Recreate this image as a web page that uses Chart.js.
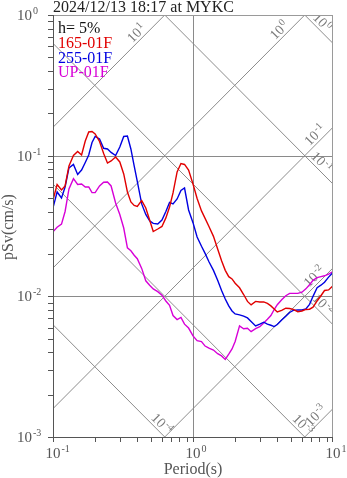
<!DOCTYPE html>
<html>
<head>
<meta charset="utf-8">
<script src="https://cdn.jsdelivr.net/npm/chart.js@4.4.1/dist/chart.umd.min.js"></script>
<style>
  html, body { margin: 0; padding: 0; background: #fff; }
  canvas { display: block; }
</style>
</head>
<body>
<canvas id="spec" width="347" height="478"></canvas>
<script>
// Periods (s) shared by the three components
const periods = [0.1, 0.107, 0.115, 0.122, 0.13, 0.14, 0.15, 0.16, 0.17, 0.18, 0.19, 0.2,
  0.215, 0.23, 0.245, 0.26, 0.28, 0.3, 0.32, 0.34, 0.36, 0.38, 0.4, 0.43, 0.46, 0.49, 0.52,
  0.56, 0.6, 0.64, 0.68, 0.72, 0.77, 0.82, 0.87, 0.93,
  1.0, 1.07, 1.15, 1.22, 1.3, 1.4, 1.5, 1.6, 1.7, 1.8, 1.9, 2.0, 2.15, 2.3, 2.45, 2.6, 2.8,
  3.0, 3.2, 3.4, 3.6, 3.8, 4.0, 4.3, 4.6, 4.9, 5.2, 5.6, 6.0, 6.4, 6.8, 7.2, 7.7, 8.2, 8.7,
  9.3, 10];

// pSv (cm/s)
const sv165 = [0.0484, 0.0624, 0.0570, 0.0609, 0.0845, 0.1003, 0.1071, 0.1012, 0.1272, 0.1474,
  0.1486, 0.1426, 0.1262, 0.1036, 0.0887, 0.0917, 0.0979, 0.0902, 0.0741, 0.0552, 0.0469,
  0.0443, 0.0436, 0.0479, 0.0425, 0.0349, 0.0289, 0.0301, 0.0314, 0.0361, 0.0432, 0.0543,
  0.0766, 0.0880, 0.0866, 0.0791,
  0.0629, 0.0496, 0.0405, 0.0358, 0.0314, 0.0267, 0.0217, 0.0179, 0.0153, 0.0138, 0.0133,
  0.0124, 0.0115, 0.0103, 0.0092, 0.00869, 0.0092, 0.00912, 0.00912, 0.0089, 0.00855,
  0.00814, 0.00774, 0.00794, 0.00823, 0.0082, 0.00807, 0.00777, 0.00787, 0.00807, 0.0081,
  0.00838, 0.00927, 0.0101, 0.011, 0.0111, 0.0119];

const sv255 = [0.0425, 0.0552, 0.0500, 0.0599, 0.0818, 0.0866, 0.0735, 0.0791, 0.0895, 0.1012,
  0.1241, 0.1369, 0.1314, 0.1129, 0.1116, 0.1054, 0.1003, 0.1153, 0.1369, 0.1380, 0.1116,
  0.0845, 0.0656, 0.0454, 0.0382, 0.0344, 0.0330, 0.0327, 0.0349, 0.0401, 0.0465, 0.0454,
  0.0492, 0.0566, 0.0589, 0.0411,
  0.0334, 0.0264, 0.0227, 0.0202, 0.0176, 0.0153, 0.0130, 0.0110, 0.00958, 0.00855, 0.00787,
  0.0075, 0.00738, 0.00723, 0.00702, 0.00663, 0.00616, 0.00634, 0.00655, 0.00634, 0.00623,
  0.0061, 0.00631, 0.0068, 0.00723, 0.00768, 0.00794, 0.008, 0.008, 0.00814, 0.00877,
  0.0100, 0.0115, 0.0120, 0.0126, 0.0137, 0.0148];

const svUP = [0.0288, 0.0310, 0.0326, 0.0401, 0.0580, 0.0687, 0.0624, 0.0629, 0.0599, 0.0599,
  0.0546, 0.0546, 0.0609, 0.0647, 0.0650, 0.0609, 0.0461, 0.0382, 0.0306, 0.0221, 0.0211,
  0.0196, 0.0185, 0.0158, 0.0129, 0.0120, 0.0113, 0.0108, 0.0102, 0.00927, 0.00863, 0.0073,
  0.00684, 0.00708, 0.00634, 0.00595,
  0.00523, 0.00484, 0.00477, 0.00443, 0.00428, 0.00415, 0.00391, 0.00377, 0.00356, 0.00388,
  0.00423, 0.00478, 0.00616, 0.00588, 0.00593, 0.00561, 0.00589, 0.00608, 0.00647, 0.00687,
  0.0073, 0.00806, 0.00872, 0.00946, 0.0101, 0.0105, 0.0105, 0.0105, 0.0107, 0.0113, 0.0121,
  0.0130, 0.0136, 0.0138, 0.0140, 0.0144, 0.0150];

const seriesNames = ['165-01F', '255-01F', 'UP-01F'];
const seriesColors = ['rgb(225,0,0)', 'rgb(0,0,225)', 'rgb(215,0,215)'];

// axis decades
const xTicks = [0.1, 1, 10];
const yTicks = [0.001, 0.01, 0.1, 1];

// tripartite lines: acceleration (cm/s^2) and displacement (cm)
const accelLines = [10, 1, 0.1, 0.01, 0.001];
const dispLines = [1, 0.1, 0.01, 0.001, 0.0001];
// period where each line label sits
const accelLabelT = [0.43, 4.5, 8.1, 8.0, 8.2];
const dispLabelT = [7.7, 7.6, 7.8, 5.6, 0.55];

const serif = '"Liberation Serif", "Times New Roman", serif';
const GRID = '#8a8a8a';

function expOf(v) {
  return String(Math.round(Math.log10(v)));
}

// draws "10" with a raised exponent starting at x0, returns total width
function pow10(ctx, exp, x0, y, size, small, rise) {
  ctx.textAlign = 'left';
  ctx.textBaseline = 'alphabetic';
  ctx.font = size + 'px ' + serif;
  ctx.fillText('10', x0, y);
  const w = ctx.measureText('10').width;
  ctx.font = small + 'px ' + serif;
  ctx.fillText(exp, x0 + w + 1, y - rise);
  return w + 1 + ctx.measureText(exp).width;
}

function powWidth(ctx, exp, size, small) {
  ctx.font = size + 'px ' + serif;
  const w = ctx.measureText('10').width;
  ctx.font = small + 'px ' + serif;
  return w + 1 + ctx.measureText(exp).width;
}

function seg(ctx, x1, y1, x2, y2) {
  ctx.beginPath();
  ctx.moveTo(x1, y1);
  ctx.lineTo(x2, y2);
  ctx.stroke();
}

const tripartite = {
  id: 'tripartite',
  beforeDatasetsDraw(chart) {
    const { ctx, chartArea: a, scales } = chart;
    const xs = scales.x, ys = scales.y;
    ctx.save();
    ctx.beginPath();
    ctx.rect(a.left, a.top, a.right - a.left, a.bottom - a.top);
    ctx.clip();
    ctx.strokeStyle = GRID;
    ctx.lineWidth = 1;

    // decade grid inside the frame
    xTicks.slice(1, -1).forEach(t => {
      const px = Math.round(xs.getPixelForValue(t)) + 0.5;
      seg(ctx, px, a.top, px, a.bottom);
    });
    yTicks.slice(1, -1).forEach(v => {
      const py = Math.round(ys.getPixelForValue(v)) + 0.5;
      seg(ctx, a.left, py, a.right, py);
    });

    const lines = [];
    accelLines.forEach((A, i) => lines.push({ f: t => A * t / (2 * Math.PI), v: A, at: accelLabelT[i] }));
    dispLines.forEach((D, i) => lines.push({ f: t => 2 * Math.PI * D / t, v: D, at: dispLabelT[i] }));

    ctx.strokeStyle = '#8c8c8c';
    lines.forEach(l => {
      seg(ctx, xs.getPixelForValue(0.05), ys.getPixelForValue(l.f(0.05)),
        xs.getPixelForValue(20), ys.getPixelForValue(l.f(20)));
    });

    // labels along the diagonals
    ctx.fillStyle = '#7a7a7a';
    lines.forEach(l => {
      const px = xs.getPixelForValue(l.at), py = ys.getPixelForValue(l.f(l.at));
      const qx = xs.getPixelForValue(l.at * 1.2), qy = ys.getPixelForValue(l.f(l.at * 1.2));
      const ang = Math.atan2(qy - py, qx - px);
      const exp = expOf(l.v);
      ctx.save();
      ctx.translate(px, py);
      ctx.rotate(ang);
      const w = powWidth(ctx, exp, 14, 10);
      pow10(ctx, exp, -w / 2, -3, 14, 10, 5);
      ctx.restore();
    });
    ctx.restore();
  },
  afterDatasetsDraw(chart) {
    const { ctx, chartArea: a, scales } = chart;
    const xs = scales.x, ys = scales.y;
    ctx.save();
    ctx.lineWidth = 1;

    // frame
    ctx.strokeStyle = '#9a9a9a';
    seg(ctx, a.left, a.top + 0.5, a.right, a.top + 0.5);
    seg(ctx, a.right - 0.5, a.top, a.right - 0.5, a.bottom);
    ctx.strokeStyle = '#555';
    seg(ctx, a.left + 0.5, a.top, a.left + 0.5, a.bottom + 1);
    seg(ctx, a.left, a.bottom + 0.5, a.right, a.bottom + 0.5);

    // minor + major ticks
    for (let k = -3; k < 0; k++) {
      for (let m = 1; m <= 9; m++) {
        const py = Math.round(ys.getPixelForValue(m * Math.pow(10, k))) + 0.5;
        seg(ctx, a.left - 5, py, a.left, py);
      }
    }
    seg(ctx, a.left - 5, a.top + 0.5, a.left, a.top + 0.5);
    for (let k = -1; k < 1; k++) {
      for (let m = 1; m <= 9; m++) {
        const px = Math.round(xs.getPixelForValue(m * Math.pow(10, k))) + 0.5;
        seg(ctx, px, a.bottom, px, a.bottom + 5);
      }
    }
    seg(ctx, a.right - 0.5, a.bottom, a.right - 0.5, a.bottom + 5);

    // tick labels
    ctx.fillStyle = '#555';
    yTicks.forEach(v => {
      const py = ys.getPixelForValue(v);
      ctx.font = '15px ' + serif;
      const w = ctx.measureText('10').width;
      pow10(ctx, expOf(v), 32 - w, py + 5, 15, 10, 6);
    });
    xTicks.forEach(t => {
      const px = xs.getPixelForValue(t);
      ctx.font = '15px ' + serif;
      const w = ctx.measureText('10').width;
      pow10(ctx, expOf(t), px - w / 2, a.bottom + 21, 15, 10, 6);
    });

    // axis titles
    ctx.font = '16px ' + serif;
    ctx.textAlign = 'center';
    ctx.textBaseline = 'alphabetic';
    ctx.fillText('Period(s)', (a.left + a.right) / 2, 474);
    ctx.save();
    ctx.translate(13, 227);
    ctx.rotate(-Math.PI / 2);
    ctx.fillText('pSv(cm/s)', 0, 0);
    ctx.restore();

    // title
    ctx.fillStyle = '#222';
    ctx.textAlign = 'left';
    ctx.fillText('2024/12/13 18:17 at MYKC', a.left, 12);

    // legend text
    ctx.fillStyle = '#111';
    ctx.fillText('h= 5%', a.left + 5, 33);
    seriesNames.forEach((n, i) => {
      ctx.fillStyle = seriesColors[i];
      ctx.fillText(n, a.left + 5, 48 + i * 14.5);
    });
    ctx.restore();
  }
};

const toPts = vals => periods.map((t, i) => ({ x: t, y: vals[i] }));

new Chart(document.getElementById('spec'), {
  type: 'line',
  data: {
    datasets: [sv165, sv255, svUP].map((vals, i) => ({
      label: seriesNames[i],
      data: toPts(vals),
      borderColor: seriesColors[i],
      borderWidth: 1.4,
      pointRadius: 0,
      tension: 0,
      fill: false
    }))
  },
  options: {
    responsive: false,
    animation: false,
    devicePixelRatio: 1,
    layout: { padding: { left: 53, right: 14, top: 15, bottom: 41 } },
    plugins: { legend: { display: false }, tooltip: { enabled: false } },
    scales: {
      x: { type: 'logarithmic', min: 0.1, max: 10, display: false },
      y: { type: 'logarithmic', min: 0.001, max: 1, display: false }
    }
  },
  plugins: [tripartite]
});
</script>
</body>
</html>
